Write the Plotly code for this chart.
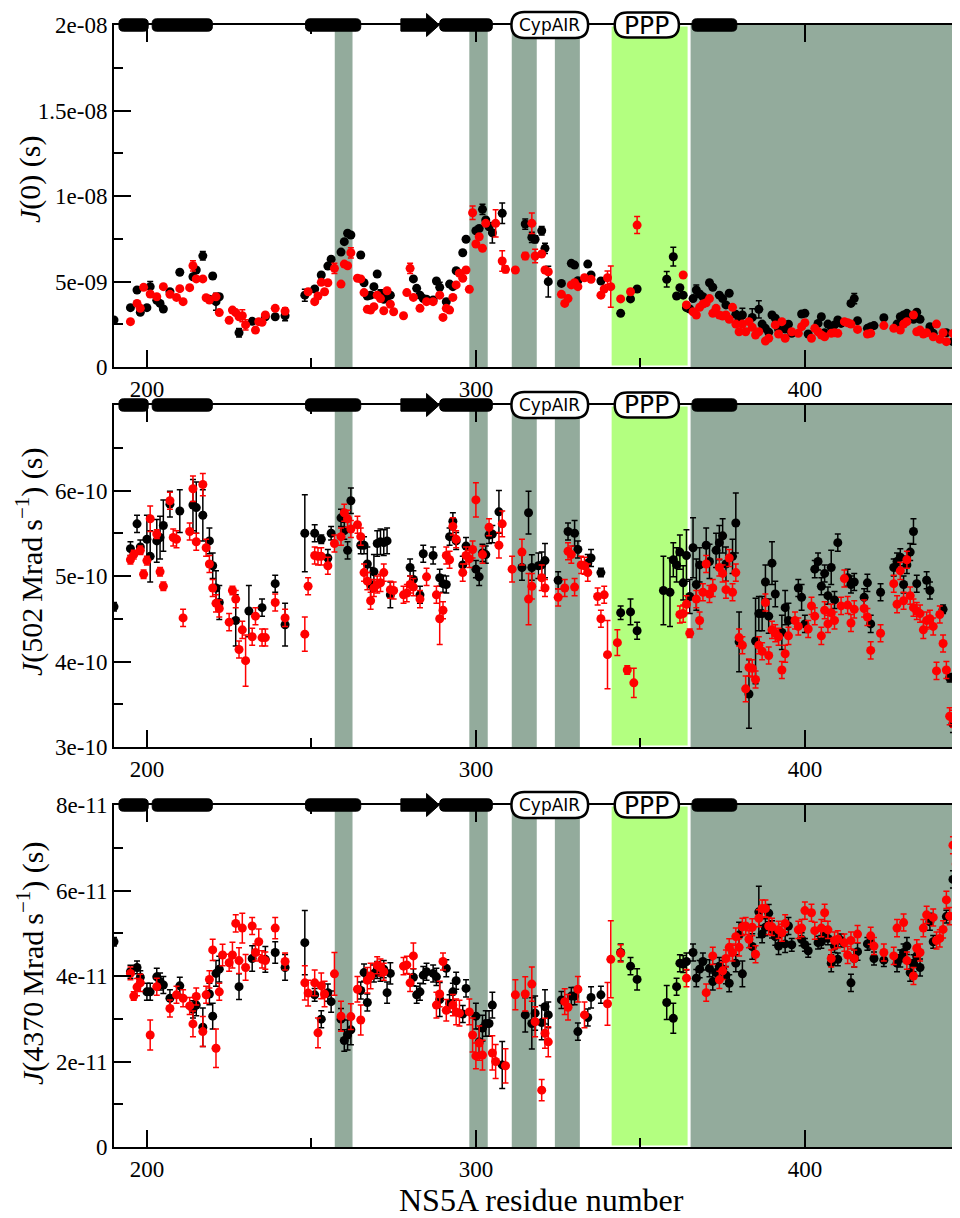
import plotly.graph_objects as go

# ---------------- data: (residue, value, error) ----------------
# Panel 1: J(0), values in units of 1e-9 s
J0_BLACK = [
    (190, 2.75, .1), (195, 3.47, .1), (197, 4.5, .1), (198, 3.2, .1), (200, 3.47, .1), (201, 4.7, .3),
    (203, 3.9, .1), (204, 3.72, .1), (205, 3.39, .1), (207, 4.4, .1), (210, 5.54, .15), (214, 5.28, .1),
    (215, 5.67, .1), (217, 6.5, .25), (219, 3.96, .1), (220, 5.32, .15), (221, 3.82, .5), (222, 4.11, .1),
    (228, 2.0, .25), (232, 2.67, .1), (236, 2.94, .1), (239, 2.94, .1), (242, 3.0, .3), (248, 4.2, .35),
    (251, 4.56, .1), (253, 5.38, .1), (255, 5.9, .1), (256, 6.3, .1), (259, 6.72, .1), (260, 7.33, .1),
    (261, 7.82, .1), (262, 7.72, .1), (265, 6.55, .15), (266, 4.93, .1), (267, 4.15, .1), (268, 4.2, .1),
    (269, 4.7, .1), (270, 5.44, .1), (271, 4.27, .25), (272, 3.96, .1), (273, 4.11, .1), (274, 4.2, .1),
    (281, 5.15, .1), (282, 4.6, .1), (283, 4.2, .1), (284, 4.0, .1), (285, 3.96, .1), (287, 3.92, .1),
    (288, 5.03, .1), (289, 4.66, .3), (291, 3.82, .1), (292, 4.85, .1), (293, 4.7, .1), (294, 5.63, .1),
    (296, 6.68, .1), (297, 7.47, .1), (300, 7.97, .1), (301, 8.1, .1), (302, 9.22, .3), (303, 8.6, .1),
    (304, 8.2, .1), (305, 7.85, .6), (308, 8.99, .6), (315, 8.36, .3), (317, 7.58, .3), (318, 7.47, .2),
    (320, 7.97, .25), (321, 6.94, .3), (322, 4.99, .9), (326, 4.89, .1), (329, 6.06, .1), (330, 5.96, .1),
    (331, 5.05, .1), (334, 6.02, .1), (335, 5.38, .1), (338, 5.03, .1), (344, 3.14, .1), (347, 3.98, .1),
    (349, 4.56, .15), (358, 5.13, .45), (360, 6.45, .55), (361, 4.15, .1), (362, 4.64, .1), (363, 4.2, .1),
    (364, 3.47, .1), (365, 3.39, .1), (366, 4.0, .1), (367, 4.5, .3), (368, 4.27, .1), (369, 4.11, .1),
    (371, 4.93, .1), (372, 4.66, .1), (374, 4.2, .1), (375, 4.0, .1), (376, 3.63, .1), (377, 4.31, .1),
    (379, 3.08, .1), (380, 2.75, .1), (381, 3.04, .4), (384, 2.9, .5), (386, 3.37, .5), (387, 2.51, .1),
    (388, 2.26, .1), (389, 2.03, .1), (390, 3.04, .15), (391, 2.85, .1), (392, 2.2, .1), (394, 2.22, .1),
    (395, 2.5, .1), (396, 1.97, .1), (399, 3.1, .1), (400, 3.14, .1), (401, 1.93, .1), (404, 2.55, .1),
    (405, 2.94, .1), (406, 2.0, .1), (407, 2.51, .1), (408, 2.36, .1), (409, 2.46, .1), (410, 2.75, .1),
    (411, 2.55, .1), (414, 3.72, .1), (415, 4.0, .3), (416, 2.71, .1), (419, 2.26, .1), (420, 2.36, .1),
    (421, 2.42, .1), (424, 2.88, .1), (428, 2.51, .1), (429, 2.94, .1), (430, 3.04, .1), (431, 3.14, .1),
    (432, 2.94, .1), (433, 2.79, .1), (434, 3.2, .1), (435, 2.79, .1), (438, 2.36, .1), (439, 1.97, .1),
    (443, 2.0, .1), (445, 1.48, .1), (446, 1.58, .1),
]
J0_RED = [
    (195, 2.65, .1), (197, 3.72, .1), (198, 3.43, .1), (199, 4.66, .1), (201, 4.27, .1), (203, 4.11, .1),
    (205, 4.7, .1), (207, 4.25, .1), (209, 4.07, .1), (210, 4.58, .1), (211, 3.82, .1), (213, 4.64, .1),
    (214, 5.92, .3), (215, 5.15, .1), (217, 5.15, .1), (218, 4.05, .1), (219, 3.92, .1), (221, 4.11, .1),
    (222, 3.18, .1), (225, 2.73, .1), (226, 3.33, .1), (227, 3.18, .1), (228, 2.94, .1), (229, 3.0, .35),
    (230, 2.46, .3), (233, 2.16, .1), (234, 2.65, .1), (235, 2.61, .1), (236, 3.04, .1), (239, 3.43, .1),
    (242, 3.27, .2), (249, 4.4, .1), (251, 3.82, .1), (252, 4.15, .1), (253, 4.95, .1), (254, 4.4, .1),
    (255, 4.93, .1), (257, 5.77, .3), (259, 4.85, .1), (260, 6.02, .1), (261, 5.92, .1), (262, 6.68, .3),
    (264, 5.19, .1), (265, 5.15, .1), (266, 4.35, .1), (267, 3.37, .1), (268, 3.33, .1), (269, 3.53, .1),
    (270, 4.2, .1), (271, 4.0, .1), (272, 3.29, .1), (273, 4.46, .1), (274, 3.67, .1), (275, 3.23, .1),
    (278, 3.0, .1), (279, 4.35, .1), (280, 5.77, .3), (281, 4.07, .1), (283, 3.43, .1), (285, 3.82, .1),
    (287, 3.82, .1), (289, 4.2, .1), (290, 2.9, .1), (291, 3.43, .1), (292, 3.33, .1), (293, 4.07, .1),
    (294, 4.8, .1), (295, 5.48, .1), (296, 5.19, .1), (297, 5.67, .15), (298, 4.54, .1), (299, 9.02, .4),
    (300, 7.19, .1), (301, 7.62, .1), (302, 6.94, .1), (303, 8.4, .1), (306, 8.4, .8), (308, 6.2, .6),
    (309, 5.71, .2), (312, 5.67, .1), (315, 6.49, .2), (317, 8.4, .6), (318, 6.49, .4), (320, 6.61, .1),
    (321, 5.67, .1), (322, 5.57, .1), (326, 4.25, .1), (327, 3.72, .1), (328, 4.0, .1), (329, 4.8, .1),
    (330, 4.93, .1), (331, 4.7, .1), (333, 5.22, .1), (335, 5.13, .1), (338, 4.2, .1), (339, 4.56, .1),
    (340, 5.22, .4), (341, 4.7, 1.2), (344, 3.98, .1), (347, 4.4, .1), (349, 8.3, .5), (363, 5.38, .1),
    (364, 3.63, .1), (366, 3.23, .1), (367, 3.04, .1), (368, 3.49, .1), (369, 3.68, .1), (370, 3.76, .1),
    (371, 4.0, .1), (372, 3.14, .1), (373, 3.43, .1), (374, 3.04, .1), (375, 2.98, .1), (376, 3.04, .1),
    (377, 2.79, .1), (378, 3.49, .1), (379, 2.51, .1), (380, 2.06, .1), (381, 2.51, .1), (382, 2.06, .1),
    (383, 2.65, .1), (384, 2.32, .1), (385, 1.87, .1), (386, 2.06, .1), (388, 1.52, .1), (389, 1.68, .1),
    (391, 2.46, .1), (392, 1.93, .1), (393, 2.65, .1), (394, 1.68, .1), (396, 2.06, .1), (398, 1.97, .1),
    (399, 2.36, .1), (400, 2.59, .1), (402, 1.68, .1), (403, 2.26, .1), (404, 2.06, .1), (405, 1.87, .1),
    (406, 1.77, .1), (408, 1.97, .1), (409, 2.0, .1), (410, 1.97, .1), (412, 2.65, .1), (413, 2.59, .1),
    (414, 2.51, .1), (416, 2.2, .1), (419, 1.93, .1), (420, 1.97, .1), (424, 2.42, .1), (427, 2.26, .1),
    (429, 2.16, .1), (430, 2.51, .1), (431, 2.65, .1), (433, 3.04, .1), (434, 2.06, .1), (435, 2.16, .1),
    (436, 1.93, .1), (437, 2.0, .1), (439, 1.77, .1), (440, 2.51, .1), (441, 1.62, .1), (442, 2.0, .1),
    (443, 1.48, .1), (445, 1.97, .1), (446, 1.68, .1),
]

# Panel 2: J(502 Mrad/s), values in units of 1e-10 s
J502_BLACK = [
    (190, 4.64, .05), (195, 5.32, .08), (197, 5.61, .1), (198, 5.34, .08), (200, 5.43, .28), (201, 5.23, .3),
    (203, 5.41, .25), (204, 5.45, .25), (205, 5.59, .3), (207, 5.84, .15), (210, 5.76, .25), (214, 5.83, .3),
    (215, 5.8, .3), (217, 5.71, .3), (219, 5.41, .15), (220, 5.12, .15), (221, 4.86, .2), (222, 4.69, .2),
    (227, 4.48, .3), (231, 4.59, .3), (235, 4.63, .1), (239, 4.91, .1), (242, 4.43, .25), (248, 5.5, .45),
    (251, 5.5, .1), (253, 5.43, .05), (255, 5.21, .1), (256, 5.5, .08), (259, 5.68, .1), (260, 5.53, .1),
    (261, 5.3, .1), (262, 5.88, .15), (265, 5.36, .1), (266, 5.36, .1), (267, 5.14, .2), (268, 4.9, .2),
    (269, 5.05, .2), (270, 5.38, .15), (271, 5.4, .15), (272, 5.39, .15), (273, 5.41, .15), (274, 4.78, .15),
    (280, 5.1, .1), (281, 4.96, .1), (283, 4.78, .1), (284, 5.26, .1), (287, 5.24, .1), (289, 4.98, .1),
    (290, 4.91, .1), (291, 4.9, .1), (292, 5.46, .1), (293, 5.64, .1), (294, 5.41, .1), (296, 5.13, .1),
    (297, 5.35, .1), (300, 5.08, .1), (301, 4.99, .1), (302, 5.27, .1), (303, 5.25, .1), (304, 5.48, .1),
    (305, 5.49, .1), (307, 5.75, .25), (314, 5.1, .15), (316, 5.74, .25), (317, 5.1, .15), (319, 5.12, .15),
    (320, 5.13, .15), (321, 5.18, .2), (325, 4.95, .1), (328, 5.52, .1), (330, 5.5, .15), (331, 5.31, .1),
    (334, 5.15, .1), (335, 5.21, .1), (338, 5.04, .05), (344, 4.57, .08), (347, 4.58, .15), (349, 4.36, .1),
    (357, 4.83, .4), (359, 4.81, .4), (360, 5.19, .2), (361, 5.13, .2), (362, 5.28, .2), (363, 4.92, .2),
    (364, 5.24, .3), (365, 4.76, .2), (366, 5.33, .35), (367, 4.9, .3), (368, 5.13, .2), (370, 5.36, .2),
    (371, 5.17, .2), (373, 5.3, .2), (374, 5.39, .2), (375, 5.47, .2), (376, 5.14, .2), (378, 5.23, .2),
    (379, 5.62, .35), (380, 4.23, .35), (383, 3.62, .4), (385, 4.24, .5), (386, 4.56, .2), (387, 4.56, .2),
    (388, 4.93, .2), (389, 4.53, .2), (390, 5.15, .25), (391, 4.79, .15), (393, 4.34, .2), (394, 4.63, .2),
    (395, 4.48, .2), (398, 4.86, .1), (399, 4.75, .15), (400, 4.44, .1), (403, 5.08, .1), (404, 5.17, .1),
    (405, 4.88, .1), (406, 5.03, .1), (407, 4.77, .1), (408, 5.1, .2), (409, 4.72, .1), (410, 5.39, .1),
    (413, 4.98, .1), (414, 4.9, .1), (415, 4.93, .1), (418, 4.75, .1), (419, 4.92, .1), (420, 4.44, .1),
    (423, 4.81, .1), (427, 5.1, .1), (428, 5.17, .1), (429, 5.22, .1), (430, 4.9, .1), (431, 5.13, .1),
    (432, 5.28, .1), (433, 5.52, .15), (434, 4.91, .1), (437, 4.95, .1), (438, 4.83, .1), (442, 4.61, .05),
    (444, 3.81, .05), (445, 3.27, .1),
]
J502_RED = [
    (195, 5.19, .05), (196, 5.25, .05), (198, 5.3, .05), (199, 5.02, .05), (200, 5.18, .05), (201, 5.67, .15),
    (203, 5.49, .05), (204, 5.05, .05), (205, 4.88, .05), (207, 5.88, .1), (208, 5.45, .1), (209, 5.43, .1),
    (211, 4.51, .1), (213, 5.52, .1), (214, 6.02, .15), (215, 5.4, .1), (217, 6.07, .13), (218, 5.33, .1),
    (219, 5.14, .1), (220, 4.86, .1), (221, 4.68, .1), (222, 4.62, .1), (225, 4.46, .1), (226, 4.83, .05),
    (227, 4.73, .1), (228, 4.14, .1), (229, 4.37, .1), (230, 4.01, .3), (232, 4.29, .1), (233, 4.53, .1),
    (235, 4.28, .1), (236, 4.28, .1), (239, 4.69, .1), (242, 4.51, .1), (248, 4.32, .2), (249, 4.88, .1),
    (251, 5.24, .1), (252, 5.23, .1), (253, 5.23, .1), (255, 5.12, .1), (257, 5.38, .1), (259, 5.46, .1),
    (260, 5.74, .1), (261, 5.67, .1), (262, 5.55, .1), (264, 5.6, .1), (265, 5.46, .1), (266, 5.04, .1),
    (267, 4.94, .1), (268, 4.71, .1), (269, 4.86, .1), (270, 4.9, .1), (271, 4.92, .1), (272, 5.04, .1),
    (274, 4.84, .1), (275, 4.83, .1), (278, 4.78, .1), (279, 4.8, .1), (280, 4.9, .1), (281, 4.87, .1),
    (283, 4.73, .1), (285, 4.99, .1), (288, 4.78, .1), (289, 4.5, .3), (290, 4.6, .1), (291, 5.24, .1),
    (292, 5.19, .1), (293, 5.58, .1), (294, 5.43, .1), (296, 5.04, .1), (297, 5.24, .1), (298, 5.2, .1),
    (299, 5.31, .1), (300, 5.89, .2), (302, 5.25, .1), (304, 5.57, .1), (307, 5.36, .15), (308, 5.61, .15),
    (311, 5.08, .15), (314, 5.28, .15), (316, 4.73, .3), (317, 4.88, .15), (320, 4.98, .15), (321, 4.86, .1),
    (325, 4.75, .1), (327, 4.86, .1), (328, 5.29, .1), (329, 5.25, .1), (330, 4.87, .1), (332, 5.13, .1),
    (333, 5.12, .1), (334, 5.04, .1), (337, 4.76, .1), (338, 4.5, .1), (339, 4.78, .1), (340, 4.08, .4),
    (343, 4.22, .15), (346, 3.9, .05), (348, 3.75, .17), (362, 4.55, .1), (363, 4.56, .1), (364, 4.67, .1),
    (365, 4.33, .05), (367, 4.73, .1), (368, 4.48, .1), (369, 4.81, .1), (370, 5.14, .1), (371, 4.79, .1),
    (372, 4.86, .1), (374, 5.1, .1), (375, 5.03, .1), (376, 4.84, .1), (377, 5.21, .1), (378, 4.81, .1),
    (379, 5.04, .1), (380, 4.28, .1), (381, 4.19, .1), (382, 3.68, .15), (383, 3.93, .1), (384, 3.92, .1),
    (385, 3.79, .1), (386, 4.19, .1), (387, 4.12, .1), (388, 4.69, .1), (389, 4.07, .1), (390, 4.37, .1),
    (391, 4.33, .1), (392, 4.29, .1), (393, 3.9, .1), (394, 4.09, .1), (395, 4.3, .1), (397, 4.48, .1),
    (398, 4.41, .1), (401, 4.38, .1), (402, 4.65, .1), (403, 4.53, .1), (405, 4.3, .1), (406, 4.6, .1),
    (407, 4.44, .1), (408, 4.57, .1), (409, 4.48, .1), (411, 4.65, .1), (412, 4.97, .1), (413, 4.66, .1),
    (414, 4.45, .1), (415, 4.61, .1), (418, 4.62, .1), (419, 4.52, .1), (420, 4.13, .1), (423, 4.33, .1),
    (427, 4.91, .1), (428, 4.67, .1), (429, 5.06, .1), (430, 4.71, .1), (431, 5.19, .1), (432, 4.77, .1),
    (433, 4.63, .1), (434, 4.59, .1), (435, 4.56, .1), (436, 4.37, .1), (437, 4.48, .1), (438, 4.5, .1),
    (439, 4.41, .1), (440, 3.89, .1), (441, 4.55, .1), (442, 4.21, .1), (443, 3.9, .1), (444, 3.36, .1),
    (445, 3.33, .1),
]

# Panel 3: J(4370 Mrad/s), values in units of 1e-11 s
J4370_BLACK = [
    (190, 4.8, .1), (195, 4.1, .15), (197, 4.2, .15), (198, 3.97, .15), (200, 3.63, .2), (201, 3.63, .2),
    (203, 3.98, .2), (204, 3.87, .2), (205, 3.79, .2), (207, 3.48, .2), (210, 3.77, .2), (214, 3.22, .2),
    (215, 3.32, .25), (217, 2.8, .45), (219, 3.58, .25), (220, 3.06, .3), (221, 4.06, .3), (222, 4.16, .3),
    (228, 3.75, .3), (232, 4.41, .3), (236, 4.39, .3), (239, 4.55, .25), (242, 4.2, .3), (248, 4.78, .75),
    (251, 3.56, .15), (253, 2.99, .2), (255, 3.61, .2), (256, 3.4, .25), (259, 2.99, .25), (260, 2.49, .25),
    (261, 2.62, .35), (262, 2.74, .35), (265, 3.66, .2), (266, 4.08, .2), (267, 3.38, .2), (269, 4.06, .2),
    (270, 4.14, .2), (271, 4.08, .2), (272, 4.16, .2), (273, 3.61, .25), (274, 4.06, .25), (281, 3.97, .2),
    (282, 3.56, .2), (283, 3.63, .2), (284, 4.02, .2), (285, 4.1, .2), (287, 4.06, .2), (288, 3.98, .2),
    (289, 3.45, .4), (291, 4.18, .2), (292, 3.36, .2), (293, 3.63, .2), (294, 3.89, .2), (296, 3.11, .2),
    (297, 3.71, .2), (300, 3.06, .3), (301, 2.46, .3), (302, 2.78, .3), (303, 2.89, .3), (304, 2.89, .3),
    (305, 3.32, .3), (308, 1.92, .55), (315, 3.09, .4), (317, 2.89, .6), (318, 3.13, .4), (320, 2.91, .4),
    (321, 3.28, .4), (322, 3.09, .3), (326, 3.44, .2), (329, 3.53, .2), (330, 3.53, .2), (331, 2.7, .2),
    (334, 3.03, .2), (335, 3.5, .25), (338, 3.56, .2), (344, 4.55, .2), (347, 4.23, .2), (349, 3.92, .25),
    (358, 3.38, .4), (360, 3.01, .35), (361, 3.75, .2), (362, 4.3, .2), (363, 4.28, .2), (364, 4.34, .2),
    (366, 4.55, .2), (367, 3.95, .2), (368, 4.16, .2), (369, 4.34, .2), (371, 4.18, .2), (372, 3.87, .2),
    (373, 4.08, .2), (374, 4.23, .2), (375, 4.16, .2), (376, 4.02, .2), (377, 3.83, .2), (379, 4.3, .2),
    (380, 4.96, .3), (381, 4.05, .3), (384, 4.69, .3), (386, 5.5, .6), (387, 4.98, .2), (388, 5.14, .2),
    (389, 5.47, .2), (390, 5.09, .2), (391, 4.92, .2), (392, 4.7, .2), (394, 4.75, .2), (395, 5.17, .2),
    (396, 4.73, .15), (399, 4.86, .15), (400, 4.73, .15), (401, 4.59, .15), (404, 4.78, .15), (405, 4.8, .15),
    (406, 5.0, .15), (407, 4.88, .15), (408, 4.3, .2), (409, 4.7, .15), (410, 4.39, .15), (411, 4.83, .15),
    (414, 3.84, .2), (415, 4.41, .2), (416, 4.57, .2), (419, 4.75, .15), (420, 4.78, .15), (421, 4.41, .15),
    (424, 4.37, .15), (428, 4.3, .2), (429, 4.41, .2), (430, 4.55, .2), (431, 4.7, .2), (432, 4.08, .2),
    (433, 4.3, .2), (434, 4.47, .2), (435, 4.2, .2), (438, 5.27, .2), (439, 4.8, .15), (443, 5.39, .15),
    (445, 6.26, .2), (446, 6.23, .2), (447, 5.64, .2),
]
J4370_RED = [
    (195, 4.06, .15), (196, 3.53, .1), (197, 3.74, .2), (198, 3.84, .2), (201, 2.62, .35), (203, 3.75, .2),
    (207, 3.24, .2), (209, 3.56, .2), (211, 3.48, .2), (213, 3.3, .2), (214, 2.88, .3), (215, 3.52, .2),
    (217, 2.7, .35), (218, 3.56, .2), (219, 3.92, .2), (220, 4.61, .25), (221, 2.31, .45), (222, 3.63, .2),
    (223, 4.49, .25), (225, 4.31, .2), (226, 4.49, .3), (227, 5.23, .2), (228, 4.36, .3), (229, 5.12, .35),
    (230, 4.2, .3), (232, 5.17, .2), (233, 4.55, .2), (234, 4.8, .3), (235, 4.39, .2), (236, 4.36, .2),
    (239, 5.12, .25), (242, 4.34, .2), (248, 3.84, .4), (249, 3.6, .3), (251, 3.84, .3), (252, 2.67, .35),
    (253, 3.77, .3), (254, 3.58, .3), (257, 4.05, .5), (259, 3.06, .35), (262, 3.05, .3), (264, 3.69, .3),
    (265, 2.97, .35), (267, 3.9, .3), (268, 4.0, .3), (270, 4.25, .2), (271, 4.2, .2), (272, 4.1, .2),
    (278, 4.23, .2), (279, 4.26, .2), (280, 3.84, .2), (281, 4.47, .3), (288, 3.32, .3), (289, 3.58, .3),
    (290, 4.34, .2), (291, 3.2, .25), (293, 3.32, .25), (294, 3.16, .3), (295, 3.13, .3), (298, 3.16, .3),
    (299, 2.62, .4), (300, 2.13, .3), (301, 2.43, .4), (302, 2.15, .35), (305, 2.2, .4), (306, 2.0, .4),
    (309, 1.9, .4), (312, 3.56, .35), (315, 3.58, .4), (317, 3.81, .4), (318, 2.93, .35), (320, 1.33, .25),
    (321, 2.66, .35), (322, 2.46, .35), (327, 3.4, .3), (328, 3.27, .3), (331, 3.69, .3), (333, 3.09, .3),
    (340, 3.35, .5), (341, 4.39, .9), (344, 4.53, .2), (364, 3.95, .2), (370, 3.61, .2), (372, 4.47, .2),
    (374, 3.91, .2), (375, 4.12, .2), (376, 4.41, .2), (377, 4.67, .2), (378, 4.55, .2), (379, 4.92, .2),
    (380, 4.67, .2), (381, 5.15, .2), (382, 5.17, .2), (383, 4.86, .2), (384, 5.14, .2), (385, 4.51, .2),
    (386, 5.35, .2), (387, 5.58, .2), (388, 5.58, .2), (389, 5.17, .2), (390, 5.15, .2), (392, 5.08, .2),
    (393, 5.01, .2), (394, 5.23, .2), (398, 5.08, .2), (399, 5.12, .2), (400, 5.53, .2), (402, 5.48, .2),
    (403, 5.06, .2), (405, 5.12, .2), (406, 5.48, .2), (407, 5.08, .2), (408, 4.41, .2), (409, 4.83, .2),
    (410, 4.86, .2), (412, 4.78, .2), (413, 4.49, .2), (414, 4.83, .2), (415, 4.41, .2), (416, 4.98, .2),
    (420, 4.94, .2), (421, 4.7, .2), (424, 4.55, .2), (427, 4.47, .2), (428, 5.12, .2), (430, 5.25, .2),
    (431, 4.36, .2), (433, 4.0, .2), (434, 4.65, .2), (435, 4.55, .2), (436, 5.12, .2), (437, 5.43, .2),
    (439, 5.37, .2), (440, 4.83, .2), (441, 4.88, .2), (442, 5.09, .2), (443, 5.78, .2), (444, 5.4, .2),
    (445, 7.06, .2), (446, 6.62, .2),
]

PANEL_SERIES = [(J0_BLACK, J0_RED), (J502_BLACK, J502_RED), (J4370_BLACK, J4370_RED)]
PANEL_UNITS = [1e-9, 1e-10, 1e-11]
Y_RANGES = [(0, 2e-8), (3e-10, 7e-10), (0, 8e-11)]
Y_TICKVALS = [[0, 5e-9, 1e-8, 1.5e-8, 2e-8], [3e-10, 4e-10, 5e-10, 6e-10], [0, 2e-11, 4e-11, 6e-11, 8e-11]]
Y_TICKTEXT = [["0", "5e-09", "1e-08", "1.5e-08", "2e-08"], ["3e-10", "4e-10", "5e-10", "6e-10"],
              ["0", "2e-11", "4e-11", "6e-11", "8e-11"]]
Y_MINOR = [[2.5e-9, 7.5e-9, 1.25e-8, 1.75e-8], [3.5e-10, 4.5e-10, 5.5e-10, 6.5e-10], [1e-11, 3e-11, 5e-11, 7e-11]]
Y_TITLES = ["<i>J</i>(0) (s)", "<i>J</i>(502\u2009Mrad\u2009s<sup>\u22121</sup>) (s)",
            "<i>J</i>(4370\u2009Mrad\u2009s<sup>\u22121</sup>) (s)"]
X_TICKVALS = [200, 300, 400]
X_MINOR = [250, 350]
X_TITLE = "NS5A residue number"

# regions and secondary structure (residue numbers)
GREY_BANDS = [(257.1, 262.5), (298.0, 303.6), (310.9, 318.5), (324.0, 331.6), (365.0, 460.0)]
GREEN_BAND = (340.8, 364.8)
HELICES = [(191.5, 200.4), (201.6, 219.9), (248.2, 265.0), (289.0, 305.0), (365.7, 379.3)]
STRAND = (277.2, 285.0, 288.9)
LABELS = [("CypAIR", 310.8, 334.1, 13, 17), ("PPP", 342.2, 361.7, 12.5, 25)]

# ---------------- layout geometry ----------------
# The page body has an 8px margin, so the figure is drawn 8px right/down of the
# window origin; screen-pixel targets below are converted with OFF.
OFF = 8
SCREEN_W, SCREEN_H = 960, 1218
W, H = SCREEN_W - OFF, SCREEN_H - OFF
PLOT_LEFT = 114                       # screen px of the left axis
ML = PLOT_LEFT - OFF
PLOT_W = SCREEN_W - PLOT_LEFT
PX_PER_RES = 3.29
X_RANGE = [190, 190 + PLOT_W / PX_PER_RES]
PANEL_PX = [(25, 367), (405, 747), (805, 1147)]   # screen px (top, bottom)
TITLE_CENTER_PX = [180, 562, 963]
SERIF = "Liberation Serif"
SANS = "DejaVu Sans"
GREY = "#93AB9C"
GREEN = "#B3FF80"
RED = "#FF0000"


def py(px):
    return 1 - (px - OFF) / H


def pxx(px):
    return (px - PLOT_LEFT) / PLOT_W


def rounded_path(x0, x1, h, r_px):
    rx = r_px / PX_PER_RES
    ry = r_px
    return (f"M{x0 + rx},{h} L{x1 - rx},{h} Q{x1},{h} {x1},{h - ry} L{x1},{-h + ry} "
            f"Q{x1},{-h} {x1 - rx},{-h} L{x0 + rx},{-h} Q{x0},{-h} {x0},{-h + ry} "
            f"L{x0},{h - ry} Q{x0},{h} {x0 + rx},{h} Z")


fig = go.Figure()
shapes = []
annotations = []

for i, (series, unit) in enumerate(zip(PANEL_SERIES, PANEL_UNITS)):
    n = "" if i == 0 else str(i + 1)
    xa, ya = "x" + n, "y" + n
    for data, color in zip(series, ["black", RED]):
        fig.add_trace(go.Scatter(
            x=[d[0] for d in data], y=[d[1] * unit for d in data],
            mode="markers", xaxis=xa, yaxis=ya, showlegend=False,
            marker=dict(color=color, size=9, line=dict(width=0)),
            error_y=dict(type="data", array=[d[2] * unit for d in data], color=color,
                         thickness=1.5, width=3),
        ))

    top_px, bot_px = PANEL_PX[i]
    fig.layout["xaxis" + n] = dict(
        domain=[0, 1], anchor=ya, range=X_RANGE, tickmode="array", tickvals=X_TICKVALS,
        ticks="inside", ticklen=17, tickwidth=1.5, tickcolor="black", automargin=False,
        showline=True, linecolor="black", linewidth=2, mirror="ticks",
        showgrid=False, zeroline=False,
        tickfont=dict(family=SERIF, size=23, color="black"),
        minor=dict(tickmode="array", tickvals=X_MINOR, ticks="inside", ticklen=9,
                   tickwidth=1.5, tickcolor="black", showgrid=False),
    )
    fig.layout["yaxis" + n] = dict(
        domain=[py(bot_px), py(top_px)], anchor=xa, range=list(Y_RANGES[i]),
        tickmode="array", tickvals=Y_TICKVALS[i], ticktext=Y_TICKTEXT[i],
        ticks="inside", ticklen=17, tickwidth=1.5, tickcolor="black", automargin=False,
        showline=True, linecolor="black", linewidth=2, mirror=False,
        showgrid=False, zeroline=False,
        tickfont=dict(family=SERIF, size=23, color="black"),
        minor=dict(tickmode="array", tickvals=Y_MINOR[i], ticks="inside", ticklen=9,
                   tickwidth=1.5, tickcolor="black", showgrid=False),
    )

    # shaded regions
    for x0, x1 in GREY_BANDS:
        shapes.append(dict(type="rect", xref=xa, yref=ya + " domain", x0=x0, x1=x1, y0=0, y1=1,
                           fillcolor=GREY, line=dict(width=0), layer="below"))
    shapes.append(dict(type="rect", xref=xa, yref=ya + " domain", x0=GREEN_BAND[0], x1=GREEN_BAND[1],
                       y0=0, y1=1, fillcolor=GREEN, line=dict(color="white", width=3), layer="below"))

    # right-edge tick stubs (axis lies just beyond the visible area)
    for tv in Y_TICKVALS[i]:
        shapes.append(dict(type="line", xref="paper", yref=ya, x0=pxx(952), x1=1,
                           y0=tv, y1=tv, line=dict(color="black", width=1.5)))

    # secondary structure diagram on top axis
    anchor = py(top_px)
    for x0, x1 in HELICES:
        shapes.append(dict(type="path", xref=xa, yref="paper", ysizemode="pixel", yanchor=anchor,
                           path=rounded_path(x0, x1, 6.2, 4.5), fillcolor="black",
                           line=dict(color="black", width=1), layer="above"))
    s0, s1, s2 = STRAND
    shapes.append(dict(type="path", xref=xa, yref="paper", ysizemode="pixel", yanchor=anchor,
                       path=f"M{s0},6.2 L{s1},6.2 L{s1},11.5 L{s2},0 L{s1},-11.5 L{s1},-6.2 L{s0},-6.2 Z",
                       fillcolor="black", line=dict(color="black", width=1), layer="above"))
    for text, x0, x1, h, fs in LABELS:
        shapes.append(dict(type="path", xref=xa, yref="paper", ysizemode="pixel", yanchor=anchor,
                           path=rounded_path(x0, x1, h, h), fillcolor="white",
                           line=dict(color="black", width=2.5), layer="above"))
        annotations.append(dict(text=text, xref=xa, yref="paper", x=(x0 + x1) / 2, y=anchor,
                                xanchor="center", yanchor="middle", showarrow=False,
                                font=dict(family=SANS, size=fs, color="black")))

    # y-axis title
    annotations.append(dict(text=Y_TITLES[i], xref="paper", yref="paper", x=pxx(30),
                            y=py(TITLE_CENTER_PX[i]), xanchor="center", yanchor="middle",
                            textangle=-90, showarrow=False,
                            font=dict(family=SERIF, size=30, color="black")))

annotations.append(dict(text=X_TITLE, xref="paper", yref="paper", x=pxx(541), y=py(1200),
                        xanchor="center", yanchor="middle", showarrow=False,
                        font=dict(family=SERIF, size=32, color="black")))

fig.update_layout(
    width=W, height=H, margin=dict(l=ML, r=0, t=0, b=0, pad=0, autoexpand=False),
    paper_bgcolor="white", plot_bgcolor="white",
    shapes=shapes, annotations=annotations, showlegend=False,
)

fig.write_html("out.html")
